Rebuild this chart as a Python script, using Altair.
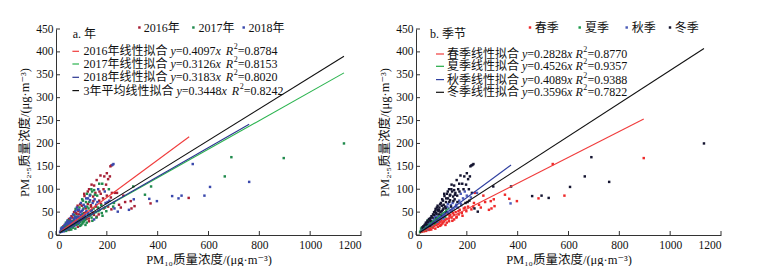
import altair as alt
import pandas as pd

SERIF = "Liberation Serif, DejaVu Serif, Noto Sans CJK SC"
W, H = 305, 206

# ---------------- data (PM10, PM2.5, year, season) ----------------
outliers = [
    (1133, 200, "2017", "冬季"), (896, 168, "2017", "春季"), (690, 170, "2017", "冬季"),
    (664, 128, "2017", "冬季"), (760, 116, "2018", "冬季"), (606, 105, "2018", "冬季"),
    (538, 155, "2018", "春季"), (584, 86, "2018", "春季"), (522, 81, "2016", "冬季"),
    (494, 86, "2018", "冬季"), (482, 80, "2018", "春季"), (457, 85, "2018", "冬季"),
    (397, 74, "2018", "春季"), (374, 106, "2017", "冬季"), (350, 88, "2017", "春季"),
    (367, 79, "2018", "春季"), (372, 69, "2016", "秋季"), (304, 106, "2017", "冬季"),
    (306, 78, "2018", "春季"), (294, 74, "2016", "春季"), (309, 63, "2016", "春季"),
    (297, 58, "2016", "春季"), (287, 55, "2018", "春季"), (243, 51, "2018", "冬季"),
]
cluster_high = [
    (222, 153, "2018", "冬季"), (226, 155, "2018", "冬季"), (214, 150, "2016", "冬季"),
    (218, 152, "2016", "冬季"), (200, 135, "2016", "冬季"), (190, 128, "2016", "冬季"),
    (205, 122, "2016", "冬季"), (175, 130, "2016", "冬季"), (160, 120, "2016", "冬季"),
    (182, 112, "2017", "冬季"), (170, 112, "2017", "冬季"), (150, 108, "2016", "冬季"),
    (140, 110, "2016", "冬季"), (208, 100, "2017", "冬季"), (166, 100, "2018", "冬季"),
    (130, 100, "2016", "冬季"), (150, 98, "2017", "冬季"), (142, 95, "2017", "冬季"),
    (192, 95, "2018", "秋季"), (232, 92, "2016", "春季"), (220, 92, "2016", "冬季"),
    (155, 92, "2016", "冬季"), (122, 90, "2017", "冬季"), (176, 90, "2016", "秋季"),
    (200, 86, "2016", "秋季"), (135, 88, "2017", "冬季"), (162, 86, "2017", "冬季"),
    (146, 84, "2016", "冬季"), (185, 80, "2016", "秋季"), (126, 80, "2018", "冬季"),
    (152, 78, "2018", "冬季"), (134, 76, "2018", "冬季"), (170, 75, "2016", "秋季"),
    (210, 75, "2018", "冬季"), (195, 70, "2018", "冬季"), (228, 70, "2017", "春季"),
    (144, 70, "2018", "秋季"), (125, 68, "2016", "秋季"), (158, 66, "2018", "秋季"),
    (178, 65, "2017", "秋季"), (138, 62, "2016", "冬季"), (205, 62, "2016", "春季"),
    (165, 60, "2017", "秋季"), (188, 58, "2016", "春季"), (148, 58, "2017", "秋季"),
    (128, 58, "2017", "秋季"), (230, 58, "2018", "冬季"), (218, 56, "2016", "春季"),
    (172, 55, "2018", "春季"), (136, 52, "2018", "秋季"), (198, 52, "2017", "春季"),
    (156, 50, "2017", "春季"), (180, 48, "2017", "春季"), (145, 48, "2016", "春季"),
    (168, 45, "2016", "春季"), (124, 45, "2018", "春季"), (132, 42, "2017", "春季"),
    (160, 40, "2016", "春季"), (140, 38, "2017", "春季"), (150, 34, "2018", "春季"),
    (130, 30, "2016", "春季"), (255, 60, "2016", "春季"), (248, 66, "2016", "春季"),
    (265, 86, "2016", "春季"), (272, 72, "2016", "春季"), (240, 92, "2016", "秋季"),
]
cluster_mid = [
    (62, 30, "2017", "夏季"), (64, 22, "2018", "秋季"), (65, 38, "2016", "冬季"),
    (66, 16, "2017", "春季"), (68, 27, "2018", "冬季"), (70, 34, "2018", "秋季"),
    (70, 20, "2016", "春季"), (72, 44, "2017", "冬季"), (74, 25, "2017", "夏季"),
    (75, 30, "2018", "秋季"), (76, 14, "2017", "春季"), (78, 48, "2016", "冬季"),
    (80, 36, "2018", "冬季"), (80, 22, "2017", "春季"), (82, 40, "2017", "秋季"),
    (84, 28, "2018", "秋季"), (85, 55, "2018", "冬季"), (86, 18, "2016", "春季"),
    (88, 33, "2017", "夏季"), (90, 45, "2016", "冬季"), (90, 26, "2018", "春季"),
    (92, 60, "2017", "冬季"), (94, 38, "2018", "秋季"), (95, 20, "2017", "春季"),
    (96, 50, "2018", "冬季"), (98, 70, "2018", "冬季"), (100, 32, "2016", "春季"),
    (100, 42, "2017", "秋季"), (102, 64, "2016", "冬季"), (104, 25, "2017", "春季"),
    (105, 55, "2018", "冬季"), (106, 75, "2017", "冬季"), (108, 36, "2018", "秋季"),
    (110, 48, "2016", "秋季"), (110, 30, "2017", "春季"), (112, 85, "2016", "冬季"),
    (114, 62, "2018", "冬季"), (115, 40, "2017", "夏季"), (116, 22, "2017", "春季"),
    (118, 72, "2017", "冬季"), (120, 52, "2018", "秋季"), (120, 35, "2016", "春季"),
    (72, 36, "2018", "秋季"), (78, 30, "2018", "夏季"), (86, 40, "2018", "秋季"),
    (92, 34, "2017", "秋季"), (98, 44, "2018", "冬季"), (104, 46, "2017", "秋季"),
    (108, 58, "2017", "冬季"), (112, 42, "2018", "秋季"), (118, 50, "2016", "冬季"),
    (96, 28, "2017", "春季"), (88, 52, "2016", "冬季"), (82, 60, "2018", "冬季"),
    (76, 52, "2018", "冬季"),
]
cluster_low = [
    (16, 6, "2018", "夏季"), (18, 8, "2018", "夏季"), (20, 10, "2017", "夏季"),
    (22, 7, "2018", "春季"), (24, 12, "2016", "秋季"), (25, 9, "2017", "夏季"),
    (27, 14, "2018", "冬季"), (28, 11, "2017", "夏季"), (30, 8, "2018", "春季"),
    (30, 16, "2016", "冬季"), (32, 13, "2018", "秋季"), (34, 10, "2017", "春季"),
    (35, 18, "2017", "夏季"), (36, 15, "2018", "冬季"), (38, 12, "2018", "夏季"),
    (40, 20, "2016", "秋季"), (40, 9, "2017", "春季"), (42, 16, "2018", "夏季"),
    (44, 22, "2017", "冬季"), (45, 13, "2018", "秋季"), (46, 28, "2018", "冬季"),
    (48, 18, "2017", "夏季"), (50, 11, "2016", "春季"), (50, 24, "2018", "秋季"),
    (52, 30, "2017", "夏季"), (54, 15, "2017", "春季"), (55, 20, "2018", "冬季"),
    (56, 33, "2016", "冬季"), (58, 26, "2018", "秋季"), (60, 12, "2017", "春季"),
    (60, 18, "2018", "夏季"), (26, 17, "2018", "冬季"), (33, 20, "2017", "夏季"),
    (38, 24, "2018", "冬季"), (42, 26, "2018", "秋季"), (47, 32, "2017", "夏季"),
    (52, 22, "2018", "夏季"), (57, 30, "2018", "冬季"), (44, 12, "2017", "春季"),
    (36, 9, "2017", "春季"),
]
cluster_core = [
    (20, 14, "2018", "夏季"), (23, 16, "2017", "夏季"), (26, 10, "2018", "秋季"),
    (29, 19, "2016", "冬季"), (31, 11, "2018", "夏季"), (34, 22, "2018", "冬季"),
    (37, 17, "2017", "秋季"), (39, 27, "2017", "冬季"), (41, 14, "2018", "夏季"),
    (43, 19, "2016", "秋季"), (45, 31, "2018", "冬季"), (47, 24, "2017", "夏季"),
    (49, 15, "2018", "春季"), (51, 35, "2016", "冬季"), (53, 27, "2018", "秋季"),
    (55, 12, "2017", "春季"), (57, 37, "2018", "冬季"), (59, 22, "2017", "夏季"),
    (61, 41, "2016", "冬季"), (63, 26, "2018", "秋季"), (65, 19, "2017", "春季"),
    (67, 45, "2018", "冬季"), (69, 31, "2017", "秋季"), (71, 50, "2016", "冬季"),
    (73, 21, "2018", "春季"), (75, 40, "2018", "秋季"), (77, 57, "2017", "冬季"),
    (79, 26, "2017", "春季"), (81, 46, "2016", "冬季"), (83, 33, "2018", "夏季"),
    (85, 64, "2016", "冬季"), (87, 24, "2017", "春季"), (89, 39, "2018", "秋季"),
    (91, 55, "2018", "冬季"), (93, 29, "2017", "春季"), (95, 67, "2016", "冬季"),
    (97, 37, "2018", "秋季"), (99, 22, "2017", "春季"), (101, 52, "2018", "冬季"),
    (103, 78, "2017", "冬季"), (105, 40, "2016", "秋季"), (107, 28, "2017", "春季"),
    (109, 66, "2018", "冬季"), (111, 90, "2016", "冬季"), (113, 45, "2018", "秋季"),
    (115, 33, "2017", "春季"), (117, 58, "2016", "冬季"), (119, 80, "2018", "冬季"),
    (121, 27, "2017", "春季"), (123, 62, "2017", "秋季"), (125, 95, "2016", "冬季"),
    (127, 48, "2018", "秋季"), (129, 36, "2016", "春季"), (131, 72, "2017", "冬季"),
    (133, 86, "2018", "冬季"), (135, 44, "2017", "春季"), (137, 65, "2016", "秋季"),
    (139, 100, "2017", "冬季"), (141, 54, "2018", "秋季"), (143, 31, "2017", "春季"),
    (147, 74, "2016", "冬季"), (149, 44, "2016", "春季"), (153, 88, "2017", "冬季"),
    (157, 62, "2016", "秋季"), (159, 38, "2017", "春季"), (163, 72, "2018", "冬季"),
    (167, 52, "2017", "春季"), (171, 95, "2016", "冬季"), (177, 68, "2016", "秋季"),
    (183, 42, "2017", "春季"), (187, 100, "2016", "冬季"), (193, 60, "2017", "春季"),
    (197, 110, "2016", "冬季"), (203, 72, "2018", "冬季"), (212, 128, "2016", "冬季"),
    (216, 82, "2016", "秋季"), (225, 62, "2017", "春季"),
]

year_names = ["2016", "2017", "2018"]
year_colors = ["#a61f35", "#1f8a4c", "#3a48ac"]
season_names = ["春季", "夏季", "秋季", "冬季"]
season_colors = ["#ee2a2a", "#1c9a4a", "#4c5cb8", "#141430"]

year_fit_names = ["2016年线性拟合", "2017年线性拟合", "2018年线性拟合", "3年平均线性拟合"]
year_fit_slopes = [0.4097, 0.3126, 0.3183, 0.3448]
year_fit_r2 = ["0.8784", "0.8153", "0.8020", "0.8242"]
year_fit_xmax = [524, 1133, 760, 1133]
year_fit_colors = ["#f03c3c", "#2ab34e", "#2a3590", "#111111"]

season_fit_names = ["春季线性拟合", "夏季线性拟合", "秋季线性拟合", "冬季线性拟合"]
season_fit_slopes = [0.2828, 0.4526, 0.4089, 0.3596]
season_fit_r2 = ["0.8770", "0.9357", "0.9388", "0.7822"]
season_fit_xmax = [896, 130, 374, 1133]
season_fit_colors = ["#f03c3c", "#22aa44", "#3040a0", "#111111"]
fit_xmin = 15

x_ticks = [0, 200, 400, 600, 800, 1000, 1200]
y_ticks = [0, 50, 100, 150, 200, 250, 300, 350, 400, 450]
x_title = "PM₁₀质量浓度/(μg·m⁻³)"
y_title = "PM₂.₅质量浓度/(μg·m⁻³)"

# ---------------- helpers ----------------
points = pd.DataFrame(outliers + cluster_high + cluster_mid + cluster_low + cluster_core,
                      columns=["pm10", "pm25", "year", "season"])

XMAX, YMAX = 1200, 450


def dx(p):  # pixel offset inside the plot -> data units (legend placement)
    return p / W * XMAX


def dy(p):
    return YMAX * (1 - p / H)


def text_width(s, size):
    w = 0.0
    for c in s:
        if ord(c) > 0x2E80:
            w += 1.0
        elif c.isdigit():
            w += 0.5
        elif c == ".":
            w += 0.25
        elif c == "=":
            w += 0.564
        elif c == " ":
            w += 0.25
        elif c in "xya":
            w += 0.444
        elif c == "R":
            w += 0.611
        else:
            w += 0.5
    return w * size


xscale = alt.Scale(domain=[0, XMAX], nice=False, zero=True)
yscale = alt.Scale(domain=[0, YMAX], nice=False, zero=True)
x_axis = alt.Axis(values=x_ticks, title=x_title, format="d")
y_axis = alt.Axis(values=y_ticks, title=y_title, format="d")


def X(field="pm10"):
    return alt.X(f"{field}:Q", scale=xscale, axis=x_axis)


def Y(field="pm25"):
    return alt.Y(f"{field}:Q", scale=yscale, axis=y_axis)


def panel(df, cfield, cnames, ccolors, fit_names, slopes, r2s, xmaxs, fit_colors,
          tag, tag_x, top_sq_x, top_txt_x, leg_seg, leg_txt_x, leg_rows, gap2):
    cmap = dict(zip(cnames, ccolors))
    df = df.assign(c=df[cfield].map(cmap))
    base_pts = alt.Chart(df).mark_square(size=6, opacity=1).encode(
        x=X(), y=Y(), color=alt.Color("c:N", scale=None))
    rows = []
    for n, k, xm, c in zip(fit_names, slopes, xmaxs, fit_colors):
        rows.append(dict(name=n, pm10=fit_xmin, pm25=k * fit_xmin, c=c))
        rows.append(dict(name=n, pm10=xm, pm25=k * xm, c=c))
    fits = alt.Chart(pd.DataFrame(rows)).mark_line(strokeWidth=1.1).encode(
        x=X(), y=Y(), detail="name:N", stroke=alt.Stroke("c:N", scale=None))
    xt = alt.Chart(pd.DataFrame({"pm10": x_ticks})).mark_rule(color="#333").encode(
        x=X(), y=alt.value(H), y2=alt.value(H - 4))
    yt = alt.Chart(pd.DataFrame({"pm25": y_ticks})).mark_rule(color="#333").encode(
        y=Y(), x=alt.value(0), x2=alt.value(4))

    tag_df = pd.DataFrame([dict(pm10=dx(tag_x), pm25=dy(4.5), t=tag)])
    tag_m = alt.Chart(tag_df).mark_text(align="left", baseline="middle", font=SERIF,
                                        fontSize=12, color="#111").encode(
        x=X(), y=Y(), text="t:N")

    sq_df = pd.DataFrame(dict(pm10=[dx(v) for v in top_sq_x],
                              pm25=[dy(-1.5)] * len(cnames), c=ccolors))
    sq_m = alt.Chart(sq_df).mark_square(size=6, opacity=1).encode(
        x=X(), y=Y(), color=alt.Color("c:N", scale=None))
    tt_df = pd.DataFrame(dict(pm10=[dx(v) for v in top_txt_x],
                              pm25=[dy(-1.5)] * len(cnames),
                              t=[n + ("年" if n.isdigit() else "") for n in cnames]))
    tt_m = alt.Chart(tt_df).mark_text(align="left", baseline="middle", font=SERIF,
                                      fontSize=12, color="#111").encode(
        x=X(), y=Y(), text="t:N")

    seg_df = pd.DataFrame(dict(pm10=[dx(leg_seg[0])] * 4, x1=[dx(leg_seg[1])] * 4,
                               pm25=[dy(r) for r in leg_rows], c=fit_colors))
    seg_m = alt.Chart(seg_df).mark_rule(strokeWidth=1.2).encode(
        x=X(), x2="x1:Q", y=Y(), color=alt.Color("c:N", scale=None))
    segs = []
    for n, k, r2, yy in zip(fit_names, slopes, r2s, leg_rows):
        x = leg_txt_x
        segs.append(dict(px=x, py=yy, t=n, s="n"))
        x += text_width(n, 12) + 3
        segs.append(dict(px=x, py=yy, t="y", s="i"))
        x += text_width("y", 12)
        t = "=" + f"{k:.4f}"
        segs.append(dict(px=x, py=yy, t=t, s="n"))
        x += text_width(t, 12)
        segs.append(dict(px=x, py=yy, t="x", s="i"))
        x += text_width("x", 12) + gap2
        segs.append(dict(px=x, py=yy, t="R", s="i"))
        x += text_width("R", 12) + 0.5
        segs.append(dict(px=x, py=yy - 4, t="2", s="s"))
        x += 4.2
        segs.append(dict(px=x, py=yy, t="=" + r2, s="n"))
    segs = pd.DataFrame(segs)
    segs["pm10"] = segs["px"].map(dx)
    segs["pm25"] = segs["py"].map(dy)
    layers = []
    for st, fs, fst in [("n", 12, "normal"), ("i", 12, "italic"), ("s", 8, "normal")]:
        layers.append(alt.Chart(segs[segs.s == st]).mark_text(
            align="left", baseline="middle", font=SERIF, fontSize=fs, fontStyle=fst,
            color="#111").encode(x=X(), y=Y(), text="t:N"))

    return alt.layer(base_pts, fits, xt, yt, tag_m, sq_m, tt_m, seg_m, *layers).properties(
        width=W, height=H)


left_df = points.assign(o=points["year"].map({n: i for i, n in enumerate(year_names)})) \
    .sort_values("o", kind="stable")
right_df = points.assign(o=points["season"].map({n: i for i, n in enumerate(season_names)})) \
    .sort_values("o", kind="stable")

left = panel(left_df, "year", year_names, year_colors, year_fit_names, year_fit_slopes,
             year_fit_r2, year_fit_xmax, year_fit_colors, "a. 年", 16.7,
             [83.4, 137.4, 187.7], [87.7, 142.4, 192.4], (16.4, 23), 27.4,
             [22.3, 35, 48.3, 61.6], 5)
right = panel(right_df, "season", season_names, season_colors, season_fit_names,
              season_fit_slopes, season_fit_r2, season_fit_xmax, season_fit_colors,
              "b. 季节", 14, [114, 163.7, 210.7, 254], [118.7, 169, 215.7, 258.7],
              (20, 28), 31, [25, 37.3, 50.6, 63.3], 3)

chart = alt.hconcat(left, right, spacing=16).properties(
    padding={"left": 10, "top": 13, "right": 0, "bottom": 0}
).configure_view(stroke=None).configure_axis(
    ticks=False, grid=False, labelPadding=4, labelFontSize=11.5, titleFontSize=12.5,
    domainColor="#333", labelColor="#111", titleColor="#111", titleFontWeight="normal",
    labelFont=SERIF, titleFont=SERIF
).configure_axisX(titlePadding=3).configure_axisY(titlePadding=4, labelPadding=3)

chart.save("out.html", embed_options={"renderer": "svg", "actions": False})
